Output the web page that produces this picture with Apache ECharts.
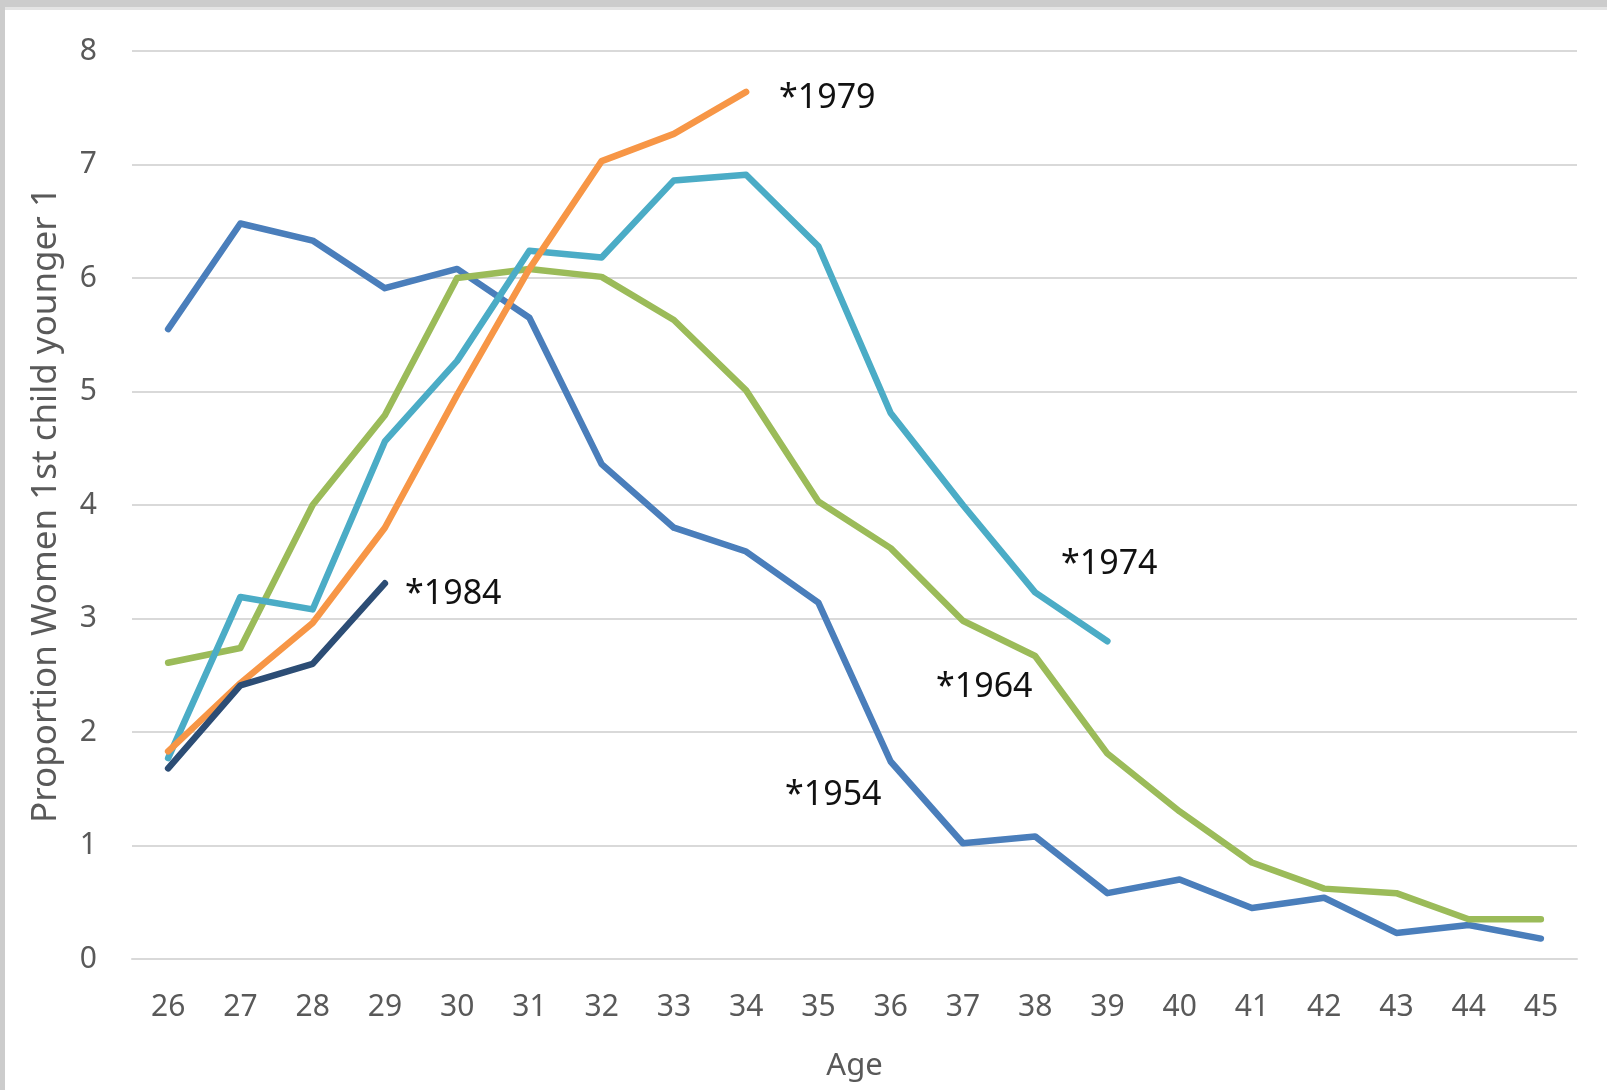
<!DOCTYPE html>
<html>
<head>
<meta charset="utf-8">
<title>Proportion Women 1st child younger 1</title>
<script src="https://cdn.jsdelivr.net/npm/echarts@6/dist/echarts.min.js"></script>
<style>
  html, body { margin: 0; padding: 0; background: #ffffff; }
  #chart { width: 1607px; height: 1090px; }
</style>
</head>
<body>
<div id="chart"></div>
<script>
// Age categories on the x axis
const ages = ['26','27','28','29','30','31','32','33','34','35','36','37','38','39','40','41','42','43','44','45'];

// Value per birth cohort, by age
const cohort1954 = [5.55, 6.48, 6.33, 5.91, 6.08, 5.65, 4.36, 3.80, 3.59, 3.14, 1.74, 1.02, 1.08, 0.58, 0.70, 0.45, 0.54, 0.23, 0.30, 0.18];
const cohort1964 = [2.61, 2.74, 4.00, 4.79, 6.00, 6.08, 6.01, 5.63, 5.01, 4.03, 3.62, 2.98, 2.67, 1.81, 1.30, 0.85, 0.62, 0.58, 0.35, 0.35];
const cohort1974 = [1.77, 3.19, 3.08, 4.56, 5.27, 6.24, 6.18, 6.86, 6.91, 6.28, 4.81, 4.00, 3.23, 2.80];
const cohort1979 = [1.83, 2.43, 2.96, 3.80, 4.97, 6.08, 7.03, 7.27, 7.64];
const cohort1984 = [1.68, 2.41, 2.60, 3.31];

const yTicks = [0, 8, 1]; // min, max, interval

const chart = echarts.init(document.getElementById('chart'), null, { renderer: 'canvas' });

const font = "'Noto Sans', 'Liberation Sans', sans-serif";
const lineSeries = (name, data, color) => ({
  name: name,
  type: 'line',
  data: data,
  symbol: 'none',
  smooth: false,
  z: 3,
  lineStyle: { color: color, width: 6.5, cap: 'round', join: 'round' }
});

const noteStyle = { fill: '#111111', font: "34px 'Noto Sans', 'Liberation Sans', sans-serif", textVerticalAlign: 'middle' };
const note = (text, x, y) => ({ type: 'text', left: x, top: y - 14, style: Object.assign({ text: text }, noteStyle), z: 10 });

chart.setOption({
  animation: false,
  backgroundColor: '#ffffff',
  grid: { left: 132, right: 30, top: 51, bottom: 131, containLabel: false },
  xAxis: {
    type: 'category',
    data: ages,
    boundaryGap: true,
    name: 'Age',
    nameLocation: 'middle',
    nameGap: 92,
    nameTextStyle: { color: '#595959', fontSize: 31, fontFamily: font },
    axisLine: { show: true, lineStyle: { color: '#d9d9d9', width: 2 } },
    axisTick: { show: false },
    axisLabel: { color: '#595959', fontSize: 30, fontFamily: font, margin: 33 },
    splitLine: { show: false }
  },
  yAxis: {
    type: 'value',
    min: yTicks[0],
    max: yTicks[1],
    interval: yTicks[2],
    name: 'Proportion Women 1st child younger 1',
    nameLocation: 'middle',
    nameGap: 68,
    nameRotate: 90,
    nameTextStyle: { color: '#595959', fontSize: 35, fontFamily: font },
    axisLine: { show: false },
    axisTick: { show: false },
    axisLabel: { color: '#595959', fontSize: 30, fontFamily: font, margin: 35 },
    splitLine: { show: true, lineStyle: { color: '#d9d9d9', width: 2 } }
  },
  series: [
    lineSeries('*1954', cohort1954, '#4a7ebb'),
    lineSeries('*1964', cohort1964, '#9bbb59'),
    lineSeries('*1974', cohort1974, '#4bacc6'),
    lineSeries('*1979', cohort1979, '#f79646'),
    lineSeries('*1984', cohort1984, '#2c4d75')
  ],
  graphic: [
    // frame edges
    { type: 'rect', left: 0, top: 0, shape: { width: 1607, height: 7 }, style: { fill: '#cccccc' }, z: 20 },
    { type: 'rect', left: 0, top: 7, shape: { width: 1607, height: 3 }, style: { fill: '#e4e4e4' }, z: 20 },
    { type: 'rect', left: 0, top: 0, shape: { width: 5, height: 1090 }, style: { fill: '#cccccc' }, z: 20 },
    // cohort labels
    note('*1979', 779, 95),
    note('*1984', 405, 591),
    note('*1974', 1061, 561),
    note('*1964', 936, 684),
    note('*1954', 785, 792)
  ]
});
</script>
</body>
</html>
